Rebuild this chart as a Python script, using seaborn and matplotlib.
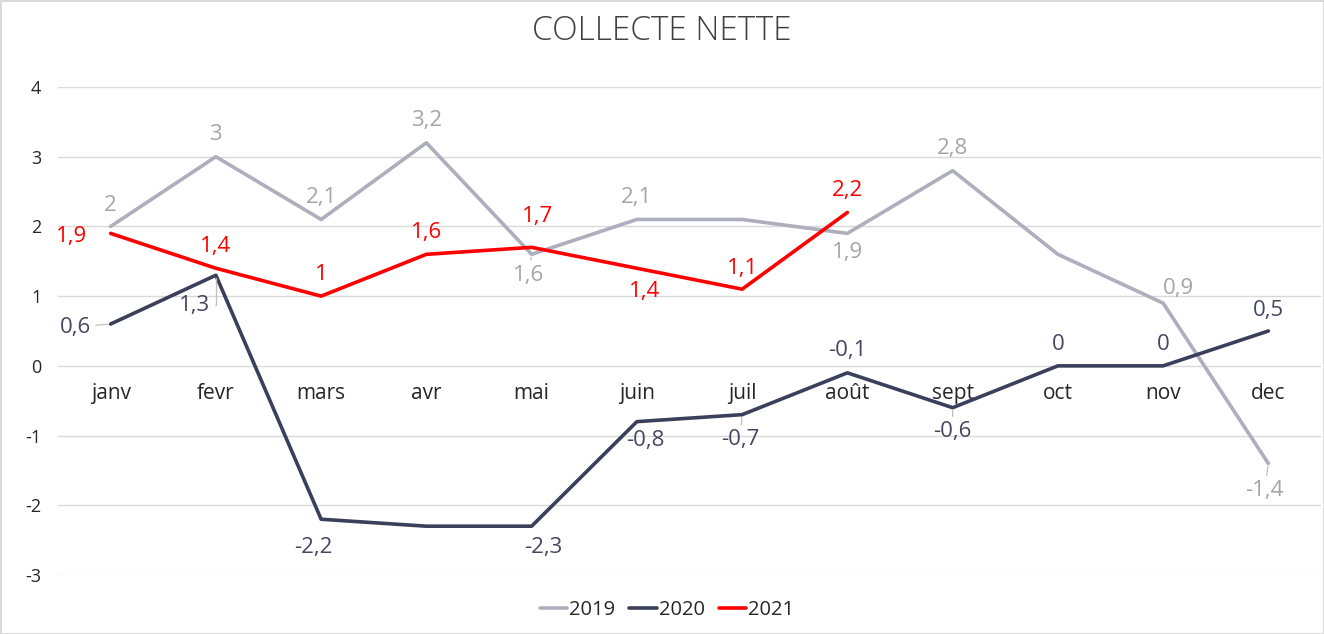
import numpy as np
import pandas as pd
import matplotlib
matplotlib.use("Agg")
import matplotlib.pyplot as plt
import seaborn as sns

# ---------------- data ----------------
months = ["janv", "fevr", "mars", "avr", "mai", "juin", "juil", "août", "sept", "oct", "nov", "dec"]
y2019 = [2, 3, 2.1, 3.2, 1.6, 2.1, 2.1, 1.9, 2.8, 1.6, 0.9, -1.4]
y2020 = [0.6, 1.3, -2.2, -2.3, -2.3, -0.8, -0.7, -0.1, -0.6, 0, 0, 0.5]
y2021 = [1.9, 1.4, 1, 1.6, 1.7, 1.4, 1.1, 2.2]
series_names = ["2019", "2020", "2021"]
yticks = [-3, -2, -1, 0, 1, 2, 3, 4]
title = "COLLECTE NETTE"

# which points carry a data label
show2019 = [True, True, True, True, True, True, False, True, True, False, True, True]
show2020 = [True, True, True, False, True, True, True, True, True, True, True, True]
show2021 = [True] * 8

# ---------------- style ----------------
colors = {"2019": "#ADAFBD", "2020": "#3A3F5C", "2021": "#FF0000"}
label_colors = {"2019": "#A5A5A5", "2020": "#44475F", "2021": "#FF0000"}
# label offsets in pixels (dx, dy; dy positive = up), leader: 0 none, 1 straight, 2 elbow
off2019 = [(0, 21, 0), (0, 22, 0), (0, 22, 0), (0, 22, 0), (-3, -21, 1), (0, 22, 0),
           (0, 0, 0), (0, -19, 0), (0, 22, 0), (0, 0, 0), (15, 15, 0), (-4, -27, 1)]
off2020 = [(-35, -3, 1), (-21, -30, 2), (-8, -28, 0), (0, 0, 0), (12, -21, 0), (8, -19, 0),
           (-2, -25, 1), (0, 22, 0), (0, -24, 1), (0, 21, 0), (0, 21, 0), (0, 21, 0)]
off2021 = [(-39, -3, 0), (0, 22, 0), (0, 22, 0), (0, 22, 0), (6, 31, 0), (8, -23, 0),
           (0, 21, 0), (0, 22, 0)]

sns.set_theme(style="white")
plt.rcParams["font.family"] = ["Open Sans", "DejaVu Sans"]

df = pd.concat([
    pd.DataFrame({"x": np.arange(len(y2019)), "value": y2019, "year": "2019"}),
    pd.DataFrame({"x": np.arange(len(y2020)), "value": y2020, "year": "2020"}),
    pd.DataFrame({"x": np.arange(len(y2021)), "value": y2021, "year": "2021"}),
])

fig = plt.figure(figsize=(13.24, 6.34), dpi=100)
fig.patch.set_edgecolor("#D9D9D9")
fig.patch.set_linewidth(2)
ax = fig.add_axes([58 / 1324, 1 - 575 / 634, (1321 - 58) / 1324, (575 - 87) / 634])

sns.lineplot(data=df, x="x", y="value", hue="year", palette=colors, hue_order=series_names,
             linewidth=2.6, ax=ax, legend=True)

ax.set_xlim(-0.5, 11.5)
ax.set_ylim(-3, 4)
ax.set_yticks(yticks)
ax.set_yticklabels([str(v) for v in yticks], fontsize=13, color="#262626")
ax.yaxis.grid(True, color="#D9D9D9", linewidth=1)
ax.set_axisbelow(True)
for s in ax.spines.values():
    s.set_visible(False)
ax.spines["bottom"].set_position(("data", 0))
ax.set_xticks(range(len(months)))
ax.set_xticklabels(months, fontsize=15, color="#262626")
ax.tick_params(axis="x", length=0, pad=12)
ax.tick_params(axis="y", length=0, pad=12)
ax.set_xlabel("")
ax.set_ylabel("")

def fmt(v):
    return ("%g" % v).replace(".", ",")

px = 72 / 100.0
for name, vals, shows, offs in [("2019", y2019, show2019, off2019),
                                ("2020", y2020, show2020, off2020),
                                ("2021", y2021, show2021, off2021)]:
    for i, (v, sh, (dx, dy, lead)) in enumerate(zip(vals, shows, offs)):
        if not sh:
            continue
        kw = {}
        if lead == 1:
            kw["arrowprops"] = dict(arrowstyle="-", color="#BFBFBF", lw=0.9,
                                    shrinkA=1, shrinkB=2)
        elif lead == 2:
            kw["arrowprops"] = dict(arrowstyle="-", color="#BFBFBF", lw=0.9,
                                    shrinkA=1, shrinkB=2,
                                    connectionstyle="angle,angleA=0,angleB=90,rad=0")
        ax.annotate(fmt(v), xy=(i, v), xytext=(dx * px, dy * px), textcoords="offset points",
                    ha="center", va="center", fontsize=16, color=label_colors[name], **kw)

fig.text(0.5, 1 - 31 / 634, title, ha="center", va="center", fontsize=24,
         color="#404040", fontweight="light")

leg = ax.legend(handles=ax.get_legend_handles_labels()[0], labels=series_names,
                loc="center", bbox_to_anchor=((667 - 58) / 1263, (575 - 610) / (575 - 87)),
                ncol=3, frameon=False, fontsize=14.5, handlelength=1.35, handletextpad=0.1,
                columnspacing=0.7)
for t in leg.get_texts():
    t.set_color("#262626")

fig.savefig("out.png", dpi=100)
